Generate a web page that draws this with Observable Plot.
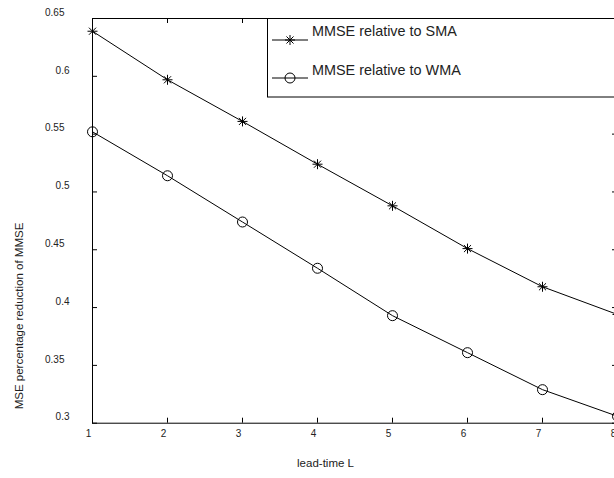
<!DOCTYPE html>
<html>
<head>
<meta charset="utf-8">
<script src="https://cdn.jsdelivr.net/npm/d3@7"></script>
<script src="https://cdn.jsdelivr.net/npm/@observablehq/plot@0.6"></script>
<style>
  html, body { margin: 0; padding: 0; background: #fff; overflow: hidden; }
  #chart svg { display: block; overflow: hidden; }
</style>
</head>
<body>
<div id="chart"></div>
<script>
// ---- data ----
const leadTime = [1, 2, 3, 4, 5, 6, 7, 8];
const smaValues = [0.639, 0.597, 0.561, 0.524, 0.488, 0.451, 0.418, 0.394];
const wmaValues = [0.552, 0.514, 0.474, 0.434, 0.393, 0.361, 0.329, 0.306];
const xTicks = [1, 2, 3, 4, 5, 6, 7, 8];
const yTicks = [0.3, 0.35, 0.4, 0.45, 0.5, 0.55, 0.6, 0.65];
const seriesNames = ["MMSE relative to SMA", "MMSE relative to WMA"];
const xLabel = "lead-time L";
const yLabel = "MSE percentage reduction of MMSE";

const sma = leadTime.map((x, i) => ({x, y: smaValues[i]}));
const wma = leadTime.map((x, i) => ({x, y: wmaValues[i]}));

const W = 614, H = 478;
const mL = 92, mR = -3, mT = 18, mB = 55.3;
const innerH = H - mT - mB;
const tickLen = 5;

const asterisk = {
  draw(ctx, size) {
    const r = Math.sqrt(size / Math.PI);
    const d = r * Math.SQRT1_2;
    ctx.moveTo(0, -r); ctx.lineTo(0, r);
    ctx.moveTo(-r, 0); ctx.lineTo(r, 0);
    ctx.moveTo(-d, -d); ctx.lineTo(d, d);
    ctx.moveTo(-d, d); ctx.lineTo(d, -d);
  }
};

const fmt = d => String(+d.toFixed(2));
const shortY = yTicks.filter(d => Math.abs(d * 10 - Math.round(d * 10)) < 1e-9);
const longY = yTicks.filter(d => !shortY.includes(d));
const txt = "#222";
const font = "'Liberation Sans', Arial, sans-serif";

const chart = Plot.plot({
  width: W,
  height: H,
  marginLeft: mL,
  marginRight: mR,
  marginTop: mT,
  marginBottom: mB,
  style: {fontFamily: font, background: "#fff"},
  x: {domain: [1, 8], range: [mL, W - mR], axis: null},
  y: {domain: [0.3, 0.65], range: [H - mB, mT], axis: null},
  marks: [
    Plot.tickX(xTicks, {x: d => d, insetTop: innerH - tickLen, stroke: "#000", strokeWidth: 1}),
    Plot.tickX(xTicks, {x: d => d, insetBottom: innerH - tickLen, stroke: "#000", strokeWidth: 1}),
    Plot.tickY(yTicks, {y: d => d, insetRight: (W - mL - mR) - tickLen, stroke: "#000", strokeWidth: 1}),
    Plot.tickY(yTicks, {y: d => d, insetLeft: (W - mL - mR) - tickLen, stroke: "#000", strokeWidth: 1}),
    Plot.frame({stroke: "#000", strokeWidth: 1}),
    Plot.text(shortY, {y: d => d, text: fmt, frameAnchor: "left", textAnchor: "end", dx: -23, dy: -6, fontSize: 10, fill: txt}),
    Plot.text(longY, {y: d => d, text: fmt, frameAnchor: "left", textAnchor: "end", dx: -28, dy: -6, fontSize: 10, fill: txt}),
    Plot.text(xTicks, {x: d => d, text: d => String(d), frameAnchor: "bottom", dy: 14, dx: -4, fontSize: 10, fill: txt}),
    Plot.text([xLabel], {text: d => d, frameAnchor: "bottom", dx: -29.5, dy: 44, fontSize: 11.5, fill: txt}),
    Plot.line(sma, {x: "x", y: "y", stroke: "#000", strokeWidth: 1}),
    Plot.dot(sma, {x: "x", y: "y", symbol: asterisk, r: 5, stroke: "#000", strokeWidth: 1, fill: "none"}),
    Plot.line(wma, {x: "x", y: "y", stroke: "#000", strokeWidth: 1}),
    Plot.dot(wma, {x: "x", y: "y", symbol: "circle", r: 5, stroke: "#000", strokeWidth: 1, fill: "none"})
  ]
});

document.getElementById("chart").appendChild(chart);

const svg = d3.select(chart);

// y-axis title
svg.append("text")
  .attr("transform", "translate(23,316) rotate(-90)")
  .attr("text-anchor", "middle")
  .attr("font-family", font).attr("font-size", 11.5).attr("fill", txt)
  .text(yLabel);

// ---- legend ----
const lg = svg.append("g").attr("font-family", font).attr("text-anchor", "start");
lg.append("rect").attr("x", 267.5).attr("y", 18.5).attr("width", 420).attr("height", 78.5)
  .attr("fill", "#fff").attr("stroke", "#000").attr("stroke-width", 1);
const rows = [
  {name: seriesNames[0], ly: 40, ty: 36, sym: "asterisk"},
  {name: seriesNames[1], ly: 78, ty: 74.7, sym: "circle"}
];
rows.forEach(r => {
  lg.append("line").attr("x1", 272).attr("x2", 308).attr("y1", r.ly).attr("y2", r.ly)
    .attr("stroke", "#000").attr("stroke-width", 1);
  if (r.sym === "asterisk") {
    const p = d3.path();
    asterisk.draw(p, Math.PI * 25);
    lg.append("path").attr("d", p.toString()).attr("transform", `translate(290,${r.ly})`)
      .attr("fill", "none").attr("stroke", "#000").attr("stroke-width", 1);
  } else {
    lg.append("circle").attr("cx", 290).attr("cy", r.ly).attr("r", 5)
      .attr("fill", "none").attr("stroke", "#000").attr("stroke-width", 1);
  }
  lg.append("text").attr("x", 312).attr("y", r.ty).attr("font-size", 14.4)
    .attr("text-anchor", "start").attr("fill", txt).text(r.name);
});
</script>
</body>
</html>
